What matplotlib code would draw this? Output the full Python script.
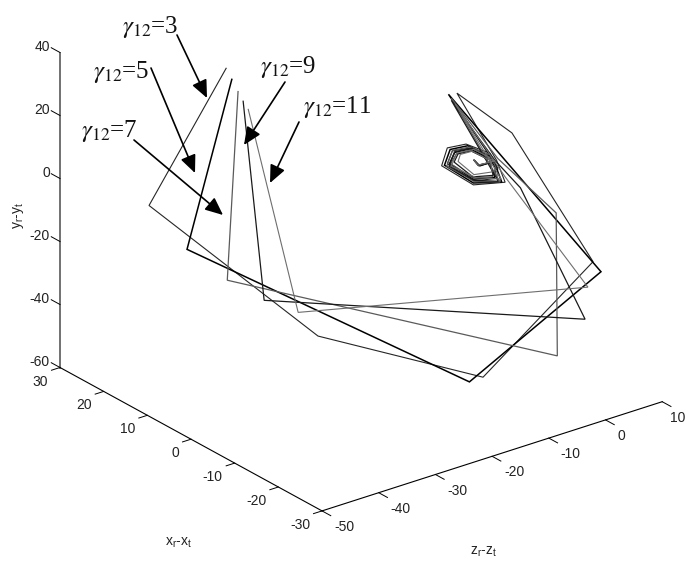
from matplotlib import pyplot as plt

# values; depth (x) can only be estimated from one view
x3 = [20, 20, 0, -20, -30, -20] + [-10] * 18
z3 = [-28.4, -42.0, -27.6, -13.9, -2.2, -8.8, -10.8, -3.8, -2.3, -7.9, -13.5, -12.5, -9.2, -5.0,
      -3.6, -3.8, -7.9, -12.5, -11.6, -8.9, -5.7, -4.3, -6.7, -7.6]
y3 = [30.1, -5.6, -40.2, -46.0, -8.5, 28.6, 34.8, 9.4, 1.6, 4.0, 13.3, 18.4, 17.7, 12.4,
      6.8, 3.7, 5.2, 13.4, 16.9, 16.2, 11.8, 9.4, 9.3, 11.4]

x5 = [20, 20, -20, -30] + [-10] * 18
z5 = [-27.4, -35.3, -16.3, -0.8, -12.3, -4.2, -2.9, -7.9, -13.0, -12.0, -8.9, -5.4,
      -4.0, -4.2, -7.9, -12.1, -11.2, -8.6, -5.6, -4.2, -6.9, -7.7]
y5 = [26.0, -23.4, -46.1, -12.5, 35.3, 9.0, 2.0, 4.6, 13.2, 17.6, 17.0, 12.0,
      7.2, 4.2, 5.8, 13.2, 16.2, 15.8, 11.6, 9.3, 9.5, 11.6]

x7 = [20, 20, -20, -20] + [-10] * 18
z7 = [-26.3, -28.2, -0.8, -1.0, -3.6, -11.8, -3.2, -7.6, -12.6, -11.6, -8.6, -4.9,
      -3.9, -4.6, -8.0, -11.9, -10.9, -8.5, -5.8, -4.1, -7.0, -7.8]
y7 = [21.5, -37.3, -46.8, -1.3, 9.9, 33.8, 2.2, 4.9, 12.6, 17.1, 16.4, 11.8,
      7.0, 4.6, 6.3, 13.0, 15.6, 15.4, 11.4, 9.4, 9.7, 11.8]

x9 = [20, 10, -20, -20] + [-10] * 17
z9 = [-25.4, -29.4, 4.1, -7.3, -4.1, -11.8, -3.5, -7.8, -12.2, -11.2, -8.2, -5.2,
      -4.4, -8.0, -11.3, -10.6, -8.3, -5.7, -4.2, -7.1, -7.8]
y9 = [17.9, -35.4, -38.0, 10.3, 9.6, 33.1, 2.6, 5.4, 12.4, 16.4, 15.8, 11.4,
      5.0, 6.6, 13.2, 15.4, 15.0, 11.2, 9.2, 9.8, 11.8]

x11 = [20, 10, -20] + [-10] * 17
z11 = [-24.5, -23.4, 4.6, -2.3, -11.1, -3.0, -7.4, -11.8, -10.8, -7.8, -5.0,
       -4.6, -7.8, -10.6, -10.2, -8.1, -5.6, -4.1, -7.1, -7.8]
y11 = [14.8, -42.7, -28.1, 3.3, 31.5, 3.0, 6.0, 12.2, 15.8, 15.2, 11.0,
       6.2, 7.2, 13.0, 15.0, 14.8, 11.0, 9.4, 9.8, 11.8]

curve_names = ["3", "5", "7", "9", "11"]
curve_colors = ["#262626", "#000000", "#5a5a5a", "#1a1a1a", "#6e6e6e"]
curve_widths = [0.8, 1.1, 0.9, 0.9, 0.8]

x_ticks = [30, 20, 10, 0, -10, -20, -30]
y_ticks = [40, 20, 0, -20, -40, -60]
z_ticks = [-50, -40, -30, -20, -10, 0, 10]

# gamma label: left, baseline, arrow start, arrow tip (picture pixels)
label_pos = [(122, 33), (93, 78), (81, 137), (260, 73), (303, 113)]
arrow_from = [(177, 35), (151, 68), (134, 140), (285, 82), (299, 122)]
arrow_to = [(207, 98), (195, 173), (223, 215), (244, 145), (270, 183)]


def project(x, y, z):
    # same axonometric view as the matlab figure
    u = 30 - x
    w = z + 50
    return 60 + 4.367 * u + 5.67 * w, 367.5 + 2.39 * u - 1.82 * w - 3.15 * (y + 60)


fig = plt.figure(figsize=(6.87, 5.61), dpi=100)
ax = fig.add_axes([0, 0, 1, 1])
ax.set_xlim(0, 687)
ax.set_ylim(561, 0)
ax.axis("off")

curves = [(x3, y3, z3), (x5, y5, z5), (x7, y7, z7), (x9, y9, z9), (x11, y11, z11)]
for k in range(len(curves)):
    px = []
    py = []
    for x, y, z in zip(*curves[k]):
        p = project(x, y, z)
        px.append(p[0])
        py.append(p[1])
    ax.plot(px, py, color=curve_colors[k], lw=curve_widths[k], solid_joinstyle="miter")

# box edges
a = project(30, -60, -50)
b = project(30, 40, -50)
c = project(-30, -60, -50)
d = project(-30, -60, 10)
ax.plot([a[0], b[0]], [a[1], b[1]], color="#666666", lw=1.3)
ax.plot([a[0], c[0]], [a[1], c[1]], color="k", lw=0.8)
ax.plot([c[0], d[0]], [c[1], d[1]], color="k", lw=0.8)

sans = dict(family="Liberation Sans", fontsize=10, color="#222222")

for v in y_ticks:
    p = project(30, v, -50)
    q = project(32, v, -50)
    ax.plot([p[0], q[0]], [p[1], q[1]], color="k", lw=0.7)
    ax.text(50, p[1] - 6, str(v), ha="right", va="center", **sans)

for v in x_ticks:
    p = project(v, -60, -50)
    q = project(v, -60, -51.5)
    ax.plot([p[0], q[0]], [p[1], q[1]], color="k", lw=0.7)
    ax.text(p[0] - 12, p[1] + 14, str(v), ha="right", va="center", **sans)

for v in z_ticks:
    p = project(-30, -60, v)
    q = project(-32, -60, v)
    ax.plot([p[0], q[0]], [p[1], q[1]], color="k", lw=0.7)
    ax.text(min(p[0] + 12, 670), p[1] + 16, str(v), ha="left", va="center", **sans)

ax.text(179, 543, r"x$_{\mathregular{r}}$-x$_{\mathregular{t}}$", ha="center", va="center", **sans)
ax.text(484, 552, r"z$_{\mathregular{r}}$-z$_{\mathregular{t}}$", ha="center", va="center", **sans)
ax.text(18, 215, r"y$_{\mathregular{r}}$-y$_{\mathregular{t}}$", rotation=90, ha="center", va="center", **sans)

for k in range(len(curve_names)):
    ax.text(label_pos[k][0], label_pos[k][1], r"$\gamma_{12}$=" + curve_names[k], family="Liberation Serif",
            math_fontfamily="stix", fontsize=18, color="#111111", ha="left", va="baseline")
    ax.annotate("", xy=arrow_to[k], xytext=arrow_from[k],
                arrowprops=dict(arrowstyle="-|>,head_length=0.77,head_width=0.34", mutation_scale=14,
                                color="k", lw=1.2, shrinkA=0, shrinkB=0))

plt.savefig("out.png", dpi=100)
